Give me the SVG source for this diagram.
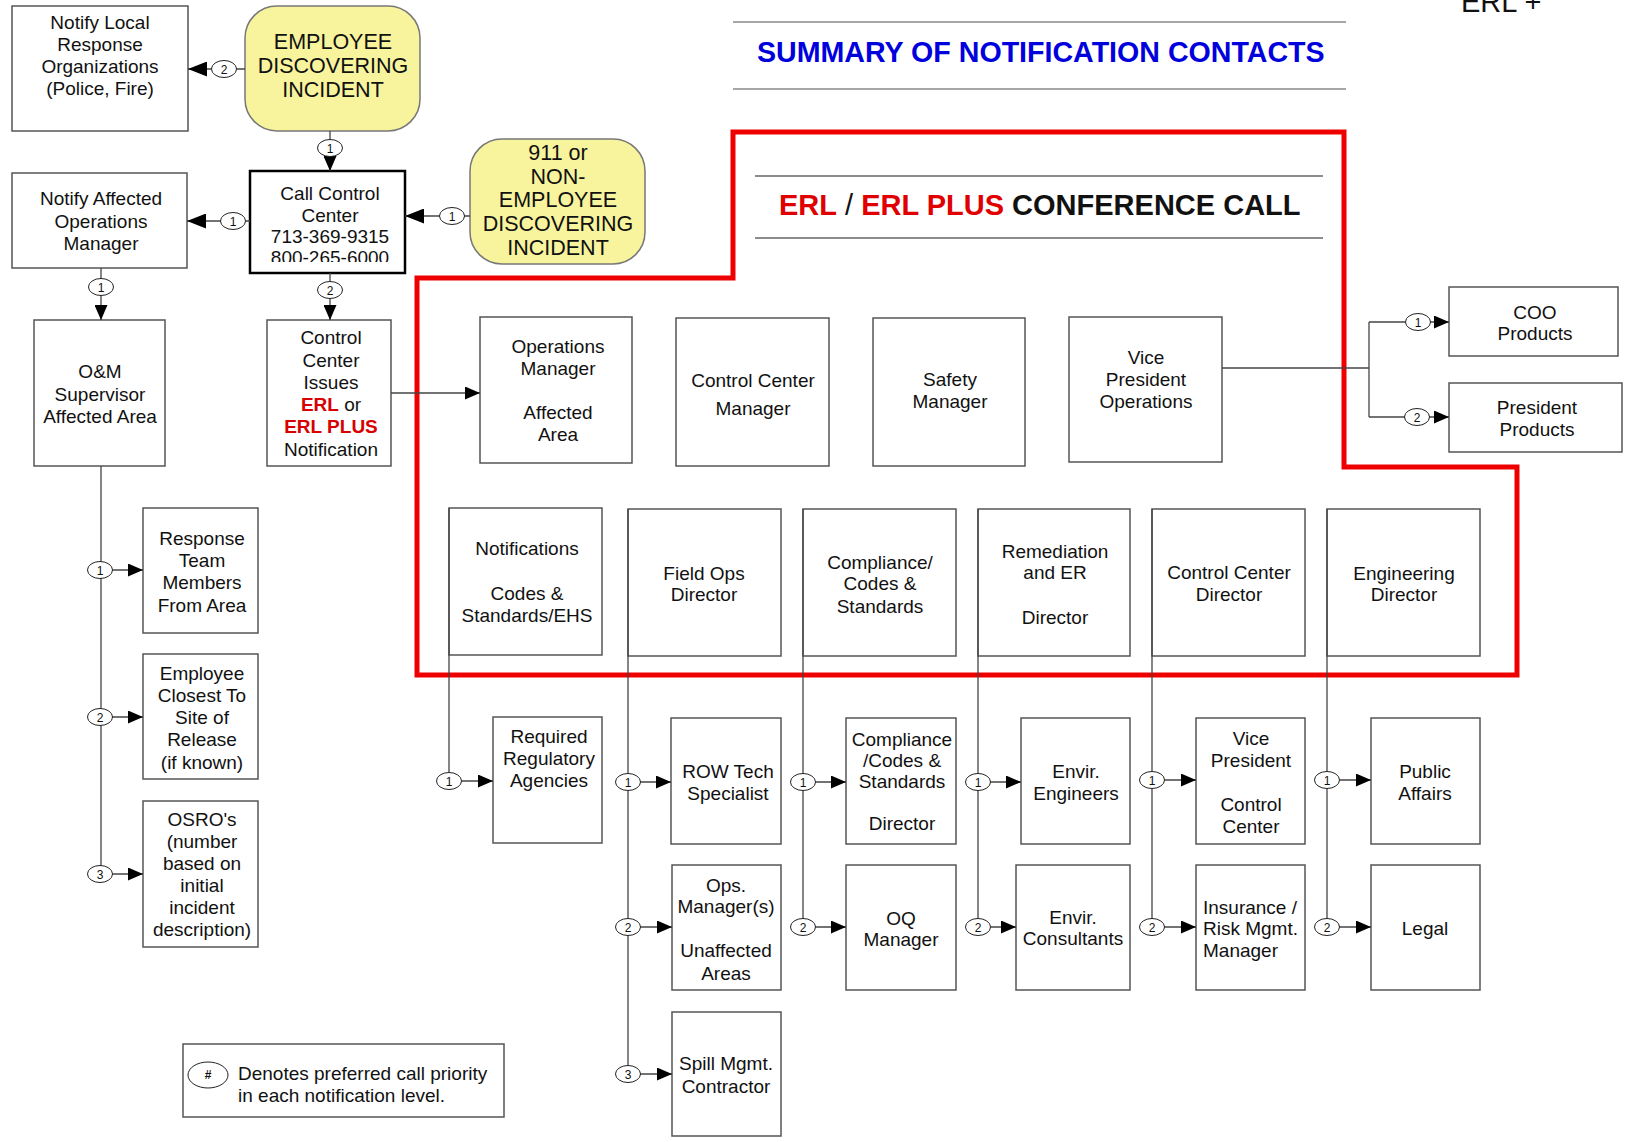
<svg xmlns="http://www.w3.org/2000/svg" width="1627" height="1142" viewBox="0 0 1627 1142">
<style>
text{font-family:"Liberation Sans",Arial,Helvetica,sans-serif;fill:#111}
.t{font-size:19px;text-anchor:middle}
.ty{font-size:21.5px;text-anchor:middle}
.box{fill:#fff;stroke:#555;stroke-width:1.5}
.yel{fill:#f8f49e;stroke:#777;stroke-width:1.5}
.conn{fill:none;stroke:#444;stroke-width:1.3}
.el{fill:#fff;stroke:#222;stroke-width:1}
.n{font-size:12px;text-anchor:middle}
.red{fill:#d80000;font-weight:bold}
</style>
<defs>
<marker id="ah" markerWidth="15" markerHeight="13" refX="15" refY="6.5" orient="auto" markerUnits="userSpaceOnUse"><path d="M0,0 L15,6.5 L0,13 z" fill="#000"/></marker>
<marker id="ahL" markerWidth="19" markerHeight="15" refX="19" refY="7.5" orient="auto" markerUnits="userSpaceOnUse"><path d="M0,0 L19,7.5 L0,15 z" fill="#000"/></marker>
<clipPath id="cccClip"><rect x="250" y="171" width="155" height="91"/></clipPath>
</defs>
<rect width="1627" height="1142" fill="#fff"/>

<!-- titles -->
<g id="titles">
<text x="1461" y="12" style="font-size:29px">ERL +</text>
<line x1="733" y1="22" x2="1346" y2="22" stroke="#888" stroke-width="1.5"/>
<line x1="733" y1="89" x2="1346" y2="89" stroke="#888" stroke-width="1.5"/>
<text x="757" y="62" style="font-size:28.6px;font-weight:bold;fill:#0000dd">SUMMARY OF NOTIFICATION CONTACTS</text>
<line x1="755" y1="176" x2="1323" y2="176" stroke="#666" stroke-width="1.3"/>
<line x1="755" y1="238" x2="1323" y2="238" stroke="#666" stroke-width="1.3"/>
<text x="779" y="215" style="font-size:29px;font-weight:bold"><tspan fill="#e00000">ERL</tspan><tspan font-weight="normal"> / </tspan><tspan fill="#e00000">ERL PLUS</tspan> CONFERENCE CALL</text>
</g>

<!-- red frame -->
<polygon id="erl-frame" points="417,278 733,278 733,132 1344,132 1344,467 1517,467 1517,675 417,675" fill="none" stroke="#ee0000" stroke-width="5"/>

<!-- nodes -->
<g id="n-notify-local"><rect class="box" x="12" y="6" width="176" height="125"/>
<text class="t" x="100" y="29">Notify Local</text><text class="t" x="100" y="51">Response</text><text class="t" x="100" y="73">Organizations</text><text class="t" x="100" y="95">(Police, Fire)</text></g>

<g id="n-employee"><rect class="yel" x="245" y="6" width="175" height="125" rx="32"/>
<text class="ty" x="333" y="49">EMPLOYEE</text><text class="ty" x="333" y="73">DISCOVERING</text><text class="ty" x="333" y="97">INCIDENT</text></g>

<g id="n-call-control"><rect x="250" y="171" width="155" height="102" fill="#fff" stroke="#000" stroke-width="2.5"/>
<g clip-path="url(#cccClip)"><text class="t" x="330" y="200">Call Control</text><text class="t" x="330" y="222">Center</text><text class="t" x="330" y="243">713-369-9315</text><text class="t" x="330" y="264">800-265-6000</text></g></g>

<g id="n-911"><rect class="yel" x="470" y="139" width="175" height="125" rx="32"/>
<text class="ty" x="558" y="160">911 or</text><text class="ty" x="558" y="184">NON-</text><text class="ty" x="558" y="207">EMPLOYEE</text><text class="ty" x="558" y="231">DISCOVERING</text><text class="ty" x="558" y="255">INCIDENT</text></g>

<g id="n-notify-affected"><rect class="box" x="12" y="173" width="175" height="95"/>
<text class="t" x="101" y="205">Notify Affected</text><text class="t" x="101" y="228">Operations</text><text class="t" x="101" y="250">Manager</text></g>

<g id="n-om-supervisor"><rect class="box" x="34" y="320" width="131" height="146"/>
<text class="t" x="100" y="378">O&amp;M</text><text class="t" x="100" y="401">Supervisor</text><text class="t" x="100" y="423">Affected Area</text></g>

<g id="n-cc-issues"><rect class="box" x="267" y="320" width="124" height="146"/>
<text class="t" x="331" y="344">Control</text><text class="t" x="331" y="367">Center</text><text class="t" x="331" y="389">Issues</text>
<text class="t" x="331" y="411"><tspan class="red">ERL</tspan> or</text><text class="t red" x="331" y="433">ERL PLUS</text><text class="t" x="331" y="456">Notification</text></g>

<g id="n-response-team"><rect class="box" x="143" y="508" width="115" height="125"/>
<text class="t" x="202" y="545">Response</text><text class="t" x="202" y="567">Team</text><text class="t" x="202" y="589">Members</text><text class="t" x="202" y="612">From Area</text></g>

<g id="n-employee-closest"><rect class="box" x="143" y="654" width="115" height="125"/>
<text class="t" x="202" y="680">Employee</text><text class="t" x="202" y="702">Closest To</text><text class="t" x="202" y="724">Site of</text><text class="t" x="202" y="746">Release</text><text class="t" x="202" y="769">(if known)</text></g>

<g id="n-osro"><rect class="box" x="143" y="801" width="115" height="146"/>
<text class="t" x="202" y="826">OSRO's</text><text class="t" x="202" y="848">(number</text><text class="t" x="202" y="870">based on</text><text class="t" x="202" y="892">initial</text><text class="t" x="202" y="914">incident</text><text class="t" x="202" y="936">description)</text></g>

<g id="legend"><rect class="box" x="183" y="1044" width="321" height="73"/>
<ellipse cx="208" cy="1075" rx="20" ry="13" fill="#fff" stroke="#222" stroke-width="1"/>
<text x="208" y="1079" style="font-size:12px;font-weight:bold;text-anchor:middle">#</text>
<text x="238" y="1080" style="font-size:19px">Denotes preferred call priority</text>
<text x="238" y="1102" style="font-size:19px">in each notification level.</text></g>

<g id="n-ops-manager"><rect class="box" x="480" y="317" width="152" height="146"/>
<text class="t" x="558" y="353">Operations</text><text class="t" x="558" y="375">Manager</text><text class="t" x="558" y="419">Affected</text><text class="t" x="558" y="441">Area</text></g>

<g id="n-cc-manager"><rect class="box" x="676" y="318" width="153" height="148"/>
<text class="t" x="753" y="387">Control Center</text><text class="t" x="753" y="415">Manager</text></g>

<g id="n-safety"><rect class="box" x="873" y="318" width="152" height="148"/>
<text class="t" x="950" y="386">Safety</text><text class="t" x="950" y="408">Manager</text></g>

<g id="n-vp-ops"><rect class="box" x="1069" y="317" width="153" height="145"/>
<text class="t" x="1146" y="364">Vice</text><text class="t" x="1146" y="386">President</text><text class="t" x="1146" y="408">Operations</text></g>

<g id="n-coo"><rect class="box" x="1449" y="287" width="169" height="69"/>
<text class="t" x="1535" y="319">COO</text><text class="t" x="1535" y="340">Products</text></g>

<g id="n-president"><rect class="box" x="1449" y="383" width="173" height="69"/>
<text class="t" x="1537" y="414">President</text><text class="t" x="1537" y="436">Products</text></g>

<g id="n-notifications"><rect class="box" x="449" y="508" width="153" height="147"/>
<text class="t" x="527" y="555">Notifications</text><text class="t" x="527" y="600">Codes &amp;</text><text class="t" x="527" y="622">Standards/EHS</text></g>

<g id="n-field-ops"><rect class="box" x="628" y="509" width="153" height="147"/>
<text class="t" x="704" y="580">Field Ops</text><text class="t" x="704" y="601">Director</text></g>

<g id="n-compliance"><rect class="box" x="803" y="509" width="153" height="147"/>
<text class="t" x="880" y="569">Compliance/</text><text class="t" x="880" y="590">Codes &amp;</text><text class="t" x="880" y="613">Standards</text></g>

<g id="n-remediation"><rect class="box" x="978" y="509" width="152" height="147"/>
<text class="t" x="1055" y="558">Remediation</text><text class="t" x="1055" y="579">and ER</text><text class="t" x="1055" y="624">Director</text></g>

<g id="n-cc-director"><rect class="box" x="1152" y="509" width="153" height="147"/>
<text class="t" x="1229" y="579">Control Center</text><text class="t" x="1229" y="601">Director</text></g>

<g id="n-engineering"><rect class="box" x="1327" y="509" width="153" height="147"/>
<text class="t" x="1404" y="580">Engineering</text><text class="t" x="1404" y="601">Director</text></g>

<g id="n-regulatory"><rect class="box" x="493" y="717" width="109" height="126"/>
<text class="t" x="549" y="743">Required</text><text class="t" x="549" y="765">Regulatory</text><text class="t" x="549" y="787">Agencies</text></g>

<g id="n-row-tech"><rect class="box" x="671" y="718" width="110" height="126"/>
<text class="t" x="728" y="778">ROW Tech</text><text class="t" x="728" y="800">Specialist</text></g>

<g id="n-compliance-dir"><rect class="box" x="846" y="718" width="110" height="126"/>
<text class="t" x="902" y="746">Compliance</text><text class="t" x="902" y="767">/Codes &amp;</text><text class="t" x="902" y="788">Standards</text><text class="t" x="902" y="830">Director</text></g>

<g id="n-envir-eng"><rect class="box" x="1021" y="718" width="109" height="126"/>
<text class="t" x="1076" y="778">Envir.</text><text class="t" x="1076" y="800">Engineers</text></g>

<g id="n-vp-cc"><rect class="box" x="1196" y="718" width="109" height="126"/>
<text class="t" x="1251" y="745">Vice</text><text class="t" x="1251" y="767">President</text><text class="t" x="1251" y="811">Control</text><text class="t" x="1251" y="833">Center</text></g>

<g id="n-public-affairs"><rect class="box" x="1371" y="718" width="109" height="126"/>
<text class="t" x="1425" y="778">Public</text><text class="t" x="1425" y="800">Affairs</text></g>

<g id="n-ops-managers"><rect class="box" x="672" y="865" width="109" height="125"/>
<text class="t" x="726" y="892">Ops.</text><text class="t" x="726" y="913">Manager(s)</text><text class="t" x="726" y="957">Unaffected</text><text class="t" x="726" y="980">Areas</text></g>

<g id="n-oq"><rect class="box" x="846" y="865" width="110" height="125"/>
<text class="t" x="901" y="925">OQ</text><text class="t" x="901" y="946">Manager</text></g>

<g id="n-envir-cons"><rect class="box" x="1016" y="865" width="114" height="125"/>
<text class="t" x="1073" y="924">Envir.</text><text class="t" x="1073" y="945">Consultants</text></g>

<g id="n-insurance"><rect class="box" x="1196" y="865" width="109" height="125"/>
<text x="1203" y="914" style="font-size:19px">Insurance /</text><text x="1203" y="935" style="font-size:19px">Risk Mgmt.</text><text x="1203" y="957" style="font-size:19px">Manager</text></g>

<g id="n-legal"><rect class="box" x="1371" y="865" width="109" height="125"/>
<text class="t" x="1425" y="935">Legal</text></g>

<g id="n-spill"><rect class="box" x="672" y="1012" width="109" height="124"/>
<text class="t" x="726" y="1070">Spill Mgmt.</text><text class="t" x="726" y="1093">Contractor</text></g>

<!-- connectors -->
<g id="connectors">
<g class="conn">
<line x1="245" y1="69" x2="188" y2="69" marker-end="url(#ahL)"/>
<line x1="330" y1="131" x2="330" y2="171" marker-end="url(#ah)"/>
<line x1="470" y1="216" x2="405" y2="216" marker-end="url(#ahL)"/>
<line x1="250" y1="221" x2="187" y2="221" marker-end="url(#ahL)"/>
<line x1="101" y1="268" x2="101" y2="320" marker-end="url(#ah)"/>
<line x1="330" y1="273" x2="330" y2="320" marker-end="url(#ah)"/>
<line x1="391" y1="393" x2="480" y2="393" marker-end="url(#ah)"/>
<polyline points="1222,368 1369,368"/>
<polyline points="1369,322 1369,417"/>
<line x1="1369" y1="322" x2="1449" y2="322" marker-end="url(#ah)"/>
<line x1="1369" y1="417" x2="1449" y2="417" marker-end="url(#ah)"/>
<line x1="101" y1="466" x2="101" y2="874"/>
<line x1="101" y1="570" x2="143" y2="570" marker-end="url(#ah)"/>
<line x1="101" y1="717" x2="143" y2="717" marker-end="url(#ah)"/>
<line x1="101" y1="874" x2="143" y2="874" marker-end="url(#ah)"/>
<line x1="449" y1="508" x2="449" y2="781"/>
<line x1="449" y1="781" x2="493" y2="781" marker-end="url(#ah)"/>
<line x1="628" y1="509" x2="628" y2="1074"/>
<line x1="628" y1="782" x2="671" y2="782" marker-end="url(#ah)"/>
<line x1="628" y1="927" x2="672" y2="927" marker-end="url(#ah)"/>
<line x1="628" y1="1074" x2="672" y2="1074" marker-end="url(#ah)"/>
<line x1="803" y1="509" x2="803" y2="927"/>
<line x1="803" y1="782" x2="846" y2="782" marker-end="url(#ah)"/>
<line x1="803" y1="927" x2="846" y2="927" marker-end="url(#ah)"/>
<line x1="978" y1="509" x2="978" y2="927"/>
<line x1="978" y1="782" x2="1021" y2="782" marker-end="url(#ah)"/>
<line x1="978" y1="927" x2="1016" y2="927" marker-end="url(#ah)"/>
<line x1="1152" y1="509" x2="1152" y2="927"/>
<line x1="1152" y1="780" x2="1196" y2="780" marker-end="url(#ah)"/>
<line x1="1152" y1="927" x2="1196" y2="927" marker-end="url(#ah)"/>
<line x1="1327" y1="509" x2="1327" y2="927"/>
<line x1="1327" y1="780" x2="1371" y2="780" marker-end="url(#ah)"/>
<line x1="1327" y1="927" x2="1371" y2="927" marker-end="url(#ah)"/>
</g>
<g id="priority-labels">
<ellipse class="el" cx="224" cy="69" rx="12.5" ry="8.5"/><text class="n" x="224" y="73.5">2</text>
<ellipse class="el" cx="330" cy="148" rx="12.5" ry="8.5"/><text class="n" x="330" y="152.5">1</text>
<ellipse class="el" cx="452" cy="216" rx="12.5" ry="8.5"/><text class="n" x="452" y="220.5">1</text>
<ellipse class="el" cx="233" cy="221" rx="12.5" ry="8.5"/><text class="n" x="233" y="225.5">1</text>
<ellipse class="el" cx="101" cy="287" rx="12.5" ry="8.5"/><text class="n" x="101" y="291.5">1</text>
<ellipse class="el" cx="330" cy="290" rx="12.5" ry="8.5"/><text class="n" x="330" y="294.5">2</text>
<ellipse class="el" cx="1418" cy="322" rx="12.5" ry="8.5"/><text class="n" x="1418" y="326.5">1</text>
<ellipse class="el" cx="1417" cy="417" rx="12.5" ry="8.5"/><text class="n" x="1417" y="421.5">2</text>
<ellipse class="el" cx="100" cy="570" rx="12.5" ry="8.5"/><text class="n" x="100" y="574.5">1</text>
<ellipse class="el" cx="100" cy="717" rx="12.5" ry="8.5"/><text class="n" x="100" y="721.5">2</text>
<ellipse class="el" cx="100" cy="874" rx="12.5" ry="8.5"/><text class="n" x="100" y="878.5">3</text>
<ellipse class="el" cx="449" cy="781" rx="12.5" ry="8.5"/><text class="n" x="449" y="785.5">1</text>
<ellipse class="el" cx="628" cy="782" rx="12.5" ry="8.5"/><text class="n" x="628" y="786.5">1</text>
<ellipse class="el" cx="628" cy="927" rx="12.5" ry="8.5"/><text class="n" x="628" y="931.5">2</text>
<ellipse class="el" cx="628" cy="1074" rx="12.5" ry="8.5"/><text class="n" x="628" y="1078.5">3</text>
<ellipse class="el" cx="803" cy="782" rx="12.5" ry="8.5"/><text class="n" x="803" y="786.5">1</text>
<ellipse class="el" cx="803" cy="927" rx="12.5" ry="8.5"/><text class="n" x="803" y="931.5">2</text>
<ellipse class="el" cx="978" cy="782" rx="12.5" ry="8.5"/><text class="n" x="978" y="786.5">1</text>
<ellipse class="el" cx="978" cy="927" rx="12.5" ry="8.5"/><text class="n" x="978" y="931.5">2</text>
<ellipse class="el" cx="1152" cy="780" rx="12.5" ry="8.5"/><text class="n" x="1152" y="784.5">1</text>
<ellipse class="el" cx="1152" cy="927" rx="12.5" ry="8.5"/><text class="n" x="1152" y="931.5">2</text>
<ellipse class="el" cx="1327" cy="780" rx="12.5" ry="8.5"/><text class="n" x="1327" y="784.5">1</text>
<ellipse class="el" cx="1327" cy="927" rx="12.5" ry="8.5"/><text class="n" x="1327" y="931.5">2</text>
</g>
</g>
</svg>
